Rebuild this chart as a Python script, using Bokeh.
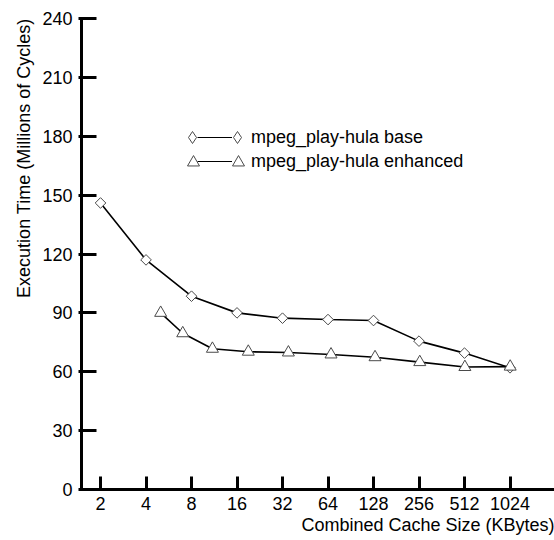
from bokeh.plotting import figure
from bokeh.models import Range1d, FixedTicker, Legend, LegendItem, NumeralTickFormatter, Title
from bokeh.embed import file_html
from bokeh.resources import INLINE

# ---- data ----
cache_kb = [2, 4, 8, 16, 32, 64, 128, 256, 512, 1024]
base_time = [146.0, 117.0, 98.5, 90.0, 87.3, 86.6, 86.1, 75.6, 69.5, 62.0]
enh_kb = [5, 7, 11, 19, 35, 67, 131, 259, 515, 1027]
enh_time = [90.0, 79.6, 71.7, 70.2, 69.8, 68.8, 67.4, 64.9, 62.4, 62.6]
x_ticks = [2, 4, 8, 16, 32, 64, 128, 256, 512, 1024]
y_ticks = [0, 30, 60, 90, 120, 150, 180, 210, 240]
series_names = ["mpeg_play-hula base", "mpeg_play-hula enhanced"]

FONT = "Liberation Sans"
FS = "18px"

p = figure(width=554, height=540, output_backend="svg", toolbar_location=None,
           x_axis_type="log",
           x_range=Range1d(2 ** 0.582, 2 ** 10.978), y_range=Range1d(0, 240),
           min_border_left=81, min_border_right=0, min_border_top=18, min_border_bottom=51)
p.outline_line_color = None
p.grid.visible = False
p.background_fill_color = "white"
p.border_fill_color = "white"

MK_LINE = "#4a4a4a"

# base series
lb = p.line(cache_kb, base_time, line_color="black", line_width=1.6)
sb = p.scatter(cache_kb, base_time, marker="square", angle=0.785398, size=7.5,
               fill_color="white", line_color=MK_LINE, line_width=1)
# enhanced series
le = p.line(enh_kb, enh_time, line_color="black", line_width=1.6)
se = p.scatter(enh_kb, enh_time, marker="triangle", size=12,
               fill_color="white", line_color=MK_LINE, line_width=1)

# hidden copies of the series, used only to draw the key (marker - line - marker)
kb_mark = p.scatter(cache_kb, base_time, marker="diamond", size=12, fill_color="white",
                    line_color=MK_LINE, line_width=1, visible=False)
ke_mark = p.scatter(enh_kb, enh_time, marker="triangle", size=11, fill_color="white",
                    line_color=MK_LINE, line_width=1, visible=False)
kb_line = p.line(cache_kb, base_time, line_color="black", line_width=1.2, visible=False)
ke_line = p.line(enh_kb, enh_time, line_color="black", line_width=1.2, visible=False)

common = dict(spacing=0, padding=0, margin=0,
              border_line_color=None, background_fill_alpha=0,
              inactive_fill_alpha=0, click_policy="none",
              label_text_font=FONT, label_text_font_size=FS, label_text_color="black")

legend_text = Legend(items=[LegendItem(label=series_names[0], renderers=[kb_line]),
                            LegendItem(label=series_names[1], renderers=[ke_line])],
                     location=(116, 316), glyph_width=35, glyph_height=24, label_height=24,
                     label_standoff=19, **common)
p.add_layout(legend_text)

# marker keys: one single-item legend per marker so each can be full size
for rend, xs, ys in ((kb_mark, (96, 141), 336.7), (ke_mark, (97, 142), 312.3)):
    for xloc in xs:
        p.add_layout(Legend(items=[LegendItem(label=" ", renderers=[rend])],
                            location=(xloc, ys), glyph_width=30, glyph_height=30,
                            label_height=20, label_width=0, label_standoff=0, **common))

# axes
xa = p.xaxis[0]
xa.ticker = FixedTicker(ticks=x_ticks)
xa.formatter = NumeralTickFormatter(format="0")
xa.minor_tick_line_color = None
xa.major_tick_in = 13
xa.major_tick_out = 0
xa.major_label_standoff = 7

ya = p.yaxis[0]
ya.ticker = FixedTicker(ticks=y_ticks)
ya.minor_tick_line_color = None
ya.major_tick_in = 15
ya.major_tick_out = 3
ya.major_label_standoff = 6

for ax in (xa, ya):
    ax.axis_line_width = 3
    ax.axis_line_color = "black"
    ax.major_tick_line_width = 3
    ax.major_tick_line_color = "black"
    ax.major_label_text_font = FONT
    ax.major_label_text_font_size = FS
    ax.major_label_text_color = "black"

x_title = Title(text="Combined Cache Size (KBytes)", align="right", text_font=FONT,
                text_font_size=FS, text_font_style="normal", text_color="black",
                standoff=0, offset=0)
p.add_layout(x_title, "below")
y_title = Title(text="Execution Time (Millions of Cycles)", align="right", text_font=FONT,
                text_font_size=FS, text_font_style="normal", text_color="black",
                standoff=11, offset=0)
p.add_layout(y_title, "left")

open("out.html", "w").write(file_html(p, INLINE))
